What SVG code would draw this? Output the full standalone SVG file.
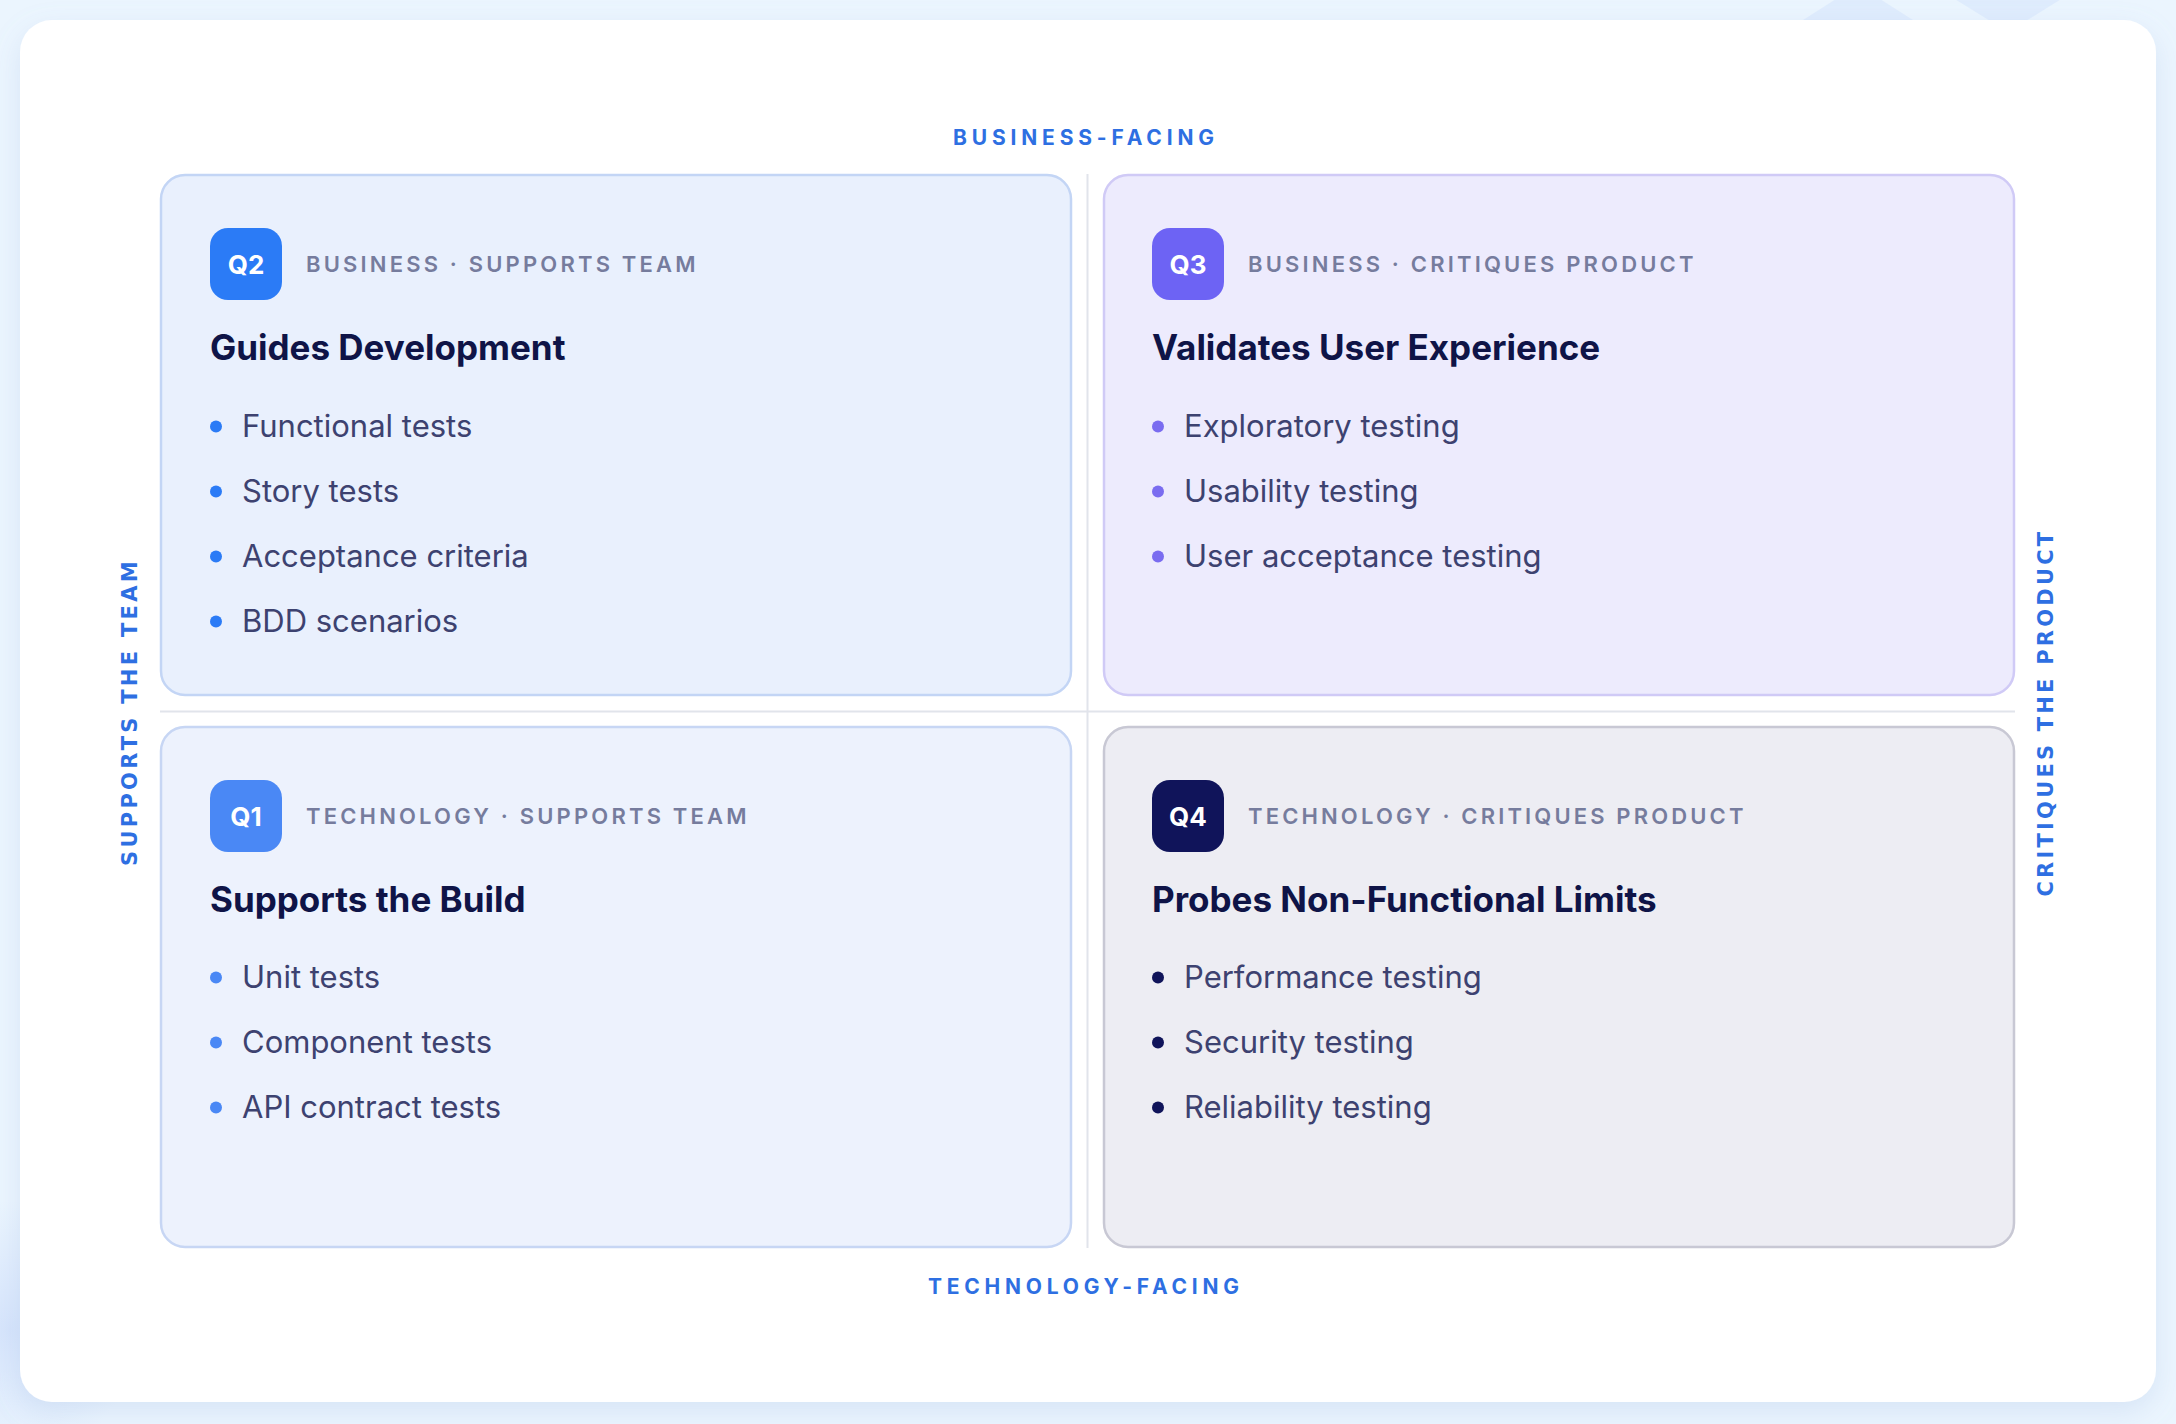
<svg xmlns="http://www.w3.org/2000/svg" width="2176" height="1424" viewBox="0 0 2176 1424">
<defs>
<style>
.axis{font-family:Inter,"Liberation Sans",sans-serif;font-size:21px;font-weight:700;fill:#2E6FE2;letter-spacing:5px}
.vaxis{font-family:"DejaVu Sans","Liberation Sans",sans-serif;font-size:21px;font-weight:700;fill:#2E6FE2;letter-spacing:3.4px}
.badge-t{font-family:Inter,"Liberation Sans",sans-serif;font-size:26px;font-weight:700;fill:#FFFFFF}
.lbl{font-family:Inter,"Liberation Sans",sans-serif;font-size:22px;font-weight:600;fill:#767C9D;letter-spacing:3.5px}
.ttl{font-family:Inter,"Liberation Sans",sans-serif;font-size:35px;font-weight:700;fill:#0F1447}
.item{font-family:Inter,"Liberation Sans",sans-serif;font-size:31px;font-weight:400;fill:#3D4270}
.div{stroke:#E1E4EB;stroke-width:2;fill:none}
.box{stroke-width:2.5}
</style>
<filter id="shadow" x="-5%" y="-5%" width="110%" height="115%">
<feDropShadow dx="0" dy="10" stdDeviation="14" flood-color="#8FA9DA" flood-opacity="0.22"/>
</filter>
<radialGradient id="glow" cx="0.5" cy="0.5" r="0.5">
<stop offset="0" stop-color="#D3E2FB" stop-opacity="0.9"/>
<stop offset="1" stop-color="#D3E2FB" stop-opacity="0"/>
</radialGradient>
</defs>

<rect x="0" y="0" width="2176" height="1424" fill="#EBF5FE"/>
<polygon points="1858,-15 1960,50 1858,115 1756,50" fill="#DCEAFD" opacity="0.8"/>
<polygon points="2008,32 2100,-25 2008,-80 1916,-25" fill="#DCEAFD" opacity="0.8"/>
<circle cx="10" cy="1330" r="130" fill="url(#glow)"/>

<rect x="20" y="20" width="2136" height="1382" rx="32" fill="#FFFFFF" filter="url(#shadow)"/>

<g id="connectors">
<line class="div" x1="1087.5" y1="174" x2="1087.5" y2="1248"/>
<line class="div" x1="160" y1="711.5" x2="2015" y2="711.5"/>
</g>

<g id="axis-labels">
<text class="axis" x="1086" y="144.5" text-anchor="middle" textLength="266" lengthAdjust="spacing">BUSINESS-FACING</text>
<text class="axis" x="1086" y="1294" text-anchor="middle" textLength="316" lengthAdjust="spacing">TECHNOLOGY-FACING</text>
<text class="vaxis" transform="translate(137,712) rotate(-90)" text-anchor="middle" textLength="308" lengthAdjust="spacing">SUPPORTS THE TEAM</text>
<text class="vaxis" transform="translate(2053,712.5) rotate(-90)" text-anchor="middle" textLength="368" lengthAdjust="spacing">CRITIQUES THE PRODUCT</text>
</g>

<g id="q2">
<rect class="box" x="161" y="175" width="910" height="520" rx="24" fill="#E9F0FD" stroke="#C3D5F5"/>
<rect x="210" y="228" width="72" height="72" rx="18" fill="#2B7BF6"/>
<text class="badge-t" x="246" y="273.5" text-anchor="middle">Q2</text>
<text class="lbl" x="306" y="272" textLength="393" lengthAdjust="spacing">BUSINESS · SUPPORTS TEAM</text>
<text class="ttl" x="210" y="360">Guides Development</text>
<g fill="#2B7BF6">
<circle cx="216" cy="426.5" r="6"/><circle cx="216" cy="491.5" r="6"/><circle cx="216" cy="556.5" r="6"/><circle cx="216" cy="621.5" r="6"/>
</g>
<text class="item" x="242" y="436.5">Functional tests</text>
<text class="item" x="242" y="501.5">Story tests</text>
<text class="item" x="242" y="566.5">Acceptance criteria</text>
<text class="item" x="242" y="631.5">BDD scenarios</text>
</g>

<g id="q3">
<rect class="box" x="1104" y="175" width="910" height="520" rx="24" fill="#EDEBFD" stroke="#D0CAF6"/>
<rect x="1152" y="228" width="72" height="72" rx="18" fill="#6D63F4"/>
<text class="badge-t" x="1188" y="273.5" text-anchor="middle">Q3</text>
<text class="lbl" x="1248" y="272" textLength="449" lengthAdjust="spacing">BUSINESS · CRITIQUES PRODUCT</text>
<text class="ttl" x="1152" y="360">Validates User Experience</text>
<g fill="#7A6CF0">
<circle cx="1158" cy="426.5" r="6"/><circle cx="1158" cy="491.5" r="6"/><circle cx="1158" cy="556.5" r="6"/>
</g>
<text class="item" x="1184" y="436.5">Exploratory testing</text>
<text class="item" x="1184" y="501.5">Usability testing</text>
<text class="item" x="1184" y="566.5">User acceptance testing</text>
</g>

<g id="q1">
<rect class="box" x="161" y="727" width="910" height="520" rx="24" fill="#EDF2FD" stroke="#C7D6F4"/>
<rect x="210" y="780" width="72" height="72" rx="18" fill="#4A88F5"/>
<text class="badge-t" x="246" y="825.5" text-anchor="middle">Q1</text>
<text class="lbl" x="306" y="824" textLength="444" lengthAdjust="spacing">TECHNOLOGY · SUPPORTS TEAM</text>
<text class="ttl" x="210" y="912">Supports the Build</text>
<g fill="#4A88F5">
<circle cx="216" cy="977.5" r="6"/><circle cx="216" cy="1042.5" r="6"/><circle cx="216" cy="1107.5" r="6"/>
</g>
<text class="item" x="242" y="987.5">Unit tests</text>
<text class="item" x="242" y="1052.5">Component tests</text>
<text class="item" x="242" y="1117.5">API contract tests</text>
</g>

<g id="q4">
<rect class="box" x="1104" y="727" width="910" height="520" rx="24" fill="#EDEDF3" stroke="#C8C8D4"/>
<rect x="1152" y="780" width="72" height="72" rx="18" fill="#10145A"/>
<text class="badge-t" x="1188" y="825.5" text-anchor="middle">Q4</text>
<text class="lbl" x="1248" y="824" textLength="499" lengthAdjust="spacing">TECHNOLOGY · CRITIQUES PRODUCT</text>
<text class="ttl" x="1152" y="912">Probes Non-Functional Limits</text>
<g fill="#10145A">
<circle cx="1158" cy="977.5" r="6"/><circle cx="1158" cy="1042.5" r="6"/><circle cx="1158" cy="1107.5" r="6"/>
</g>
<text class="item" x="1184" y="987.5">Performance testing</text>
<text class="item" x="1184" y="1052.5">Security testing</text>
<text class="item" x="1184" y="1117.5">Reliability testing</text>
</g>
</svg>
